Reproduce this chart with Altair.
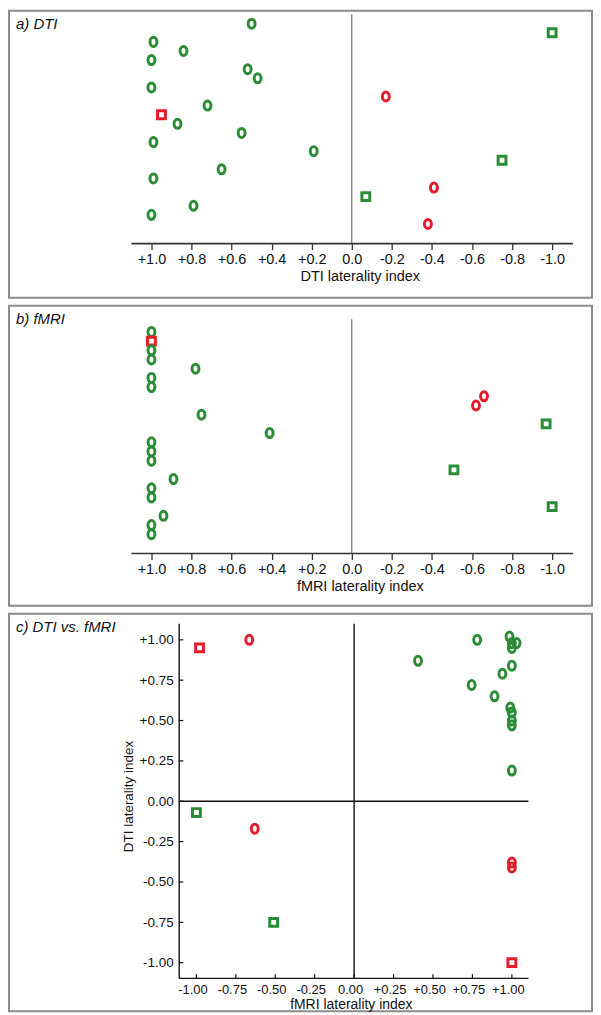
import altair as alt
import pandas as pd

FONT = "Liberation Sans"
GREEN = "#2b8c36"
RED = "#e31d2b"
BORDER = "#8c8c8c"

# ---------------- data ----------------
# a) DTI laterality index, one row per subject (top to bottom)
a_val = [0.50, -1.00, 0.99, 0.84, 1.00, 0.52, 0.47, 1.00, -0.17, 0.72, 0.95, 0.87,
         0.55, 0.99, 0.19, -0.75, 0.65, 0.99, -0.41, -0.07, 0.79, 1.00, -0.38]
a_col = ["green", "green", "green", "green", "green", "green", "green", "green", "red", "green", "red", "green",
         "green", "green", "green", "green", "green", "green", "red", "green", "green", "green", "red"]
a_shp = ["circle", "square", "circle", "circle", "circle", "circle", "circle", "circle", "circle", "circle", "square", "circle",
         "circle", "circle", "circle", "square", "circle", "circle", "circle", "square", "circle", "circle", "circle"]

# b) fMRI laterality index, one row per subject (top to bottom)
b_val = [1.00, 1.00, 1.00, 1.00, 0.78, 1.00, 1.00, -0.66, -0.62, 0.75, -0.97, 0.41,
         1.00, 1.00, 1.00, -0.51, 0.89, 1.00, 1.00, -1.00, 0.94, 1.00, 1.00]
b_col = ["green", "red", "green", "green", "green", "green", "green", "red", "red", "green", "green", "green",
         "green", "green", "green", "green", "green", "green", "green", "green", "green", "green", "green"]
b_shp = ["circle", "square", "circle", "circle", "circle", "circle", "circle", "circle", "circle", "circle", "square", "circle",
         "circle", "circle", "circle", "square", "circle", "circle", "circle", "square", "circle", "circle", "circle"]

# c) DTI vs. fMRI
c_fmri = [-0.98, -0.665, -1.00, -0.63, -0.51, 0.78, 0.985, 1.00, 1.03, 1.00, 0.405, 1.00,
          0.94, 0.745, 0.89, 0.99, 1.00, 1.00, 1.00, 1.00, 1.00, 1.00, 1.00]
c_dti = [0.95, 1.00, -0.07, -0.17, -0.75, 1.00, 1.02, 0.98, 0.98, 0.95, 0.87, 0.84,
         0.79, 0.72, 0.65, 0.58, 0.55, 0.50, 0.47, 0.19, -0.38, -0.41, -1.00]
c_col = ["red", "red", "green", "red", "green", "green", "green", "green", "green", "green", "green", "green",
         "green", "green", "green", "green", "green", "green", "green", "green", "red", "red", "red"]
c_shp = ["square", "circle", "square", "circle", "square", "circle", "circle", "circle", "circle", "circle", "circle", "circle",
         "circle", "circle", "circle", "circle", "circle", "circle", "circle", "circle", "circle", "circle", "square"]

ab_ticks = [1.0, 0.8, 0.6, 0.4, 0.2, 0.0, -0.2, -0.4, -0.6, -0.8, -1.0]
c_ticks = [-1.0, -0.75, -0.5, -0.25, 0.0, 0.25, 0.5, 0.75, 1.0]

# ---------------- layout ----------------
W = 585
H_A, H_B, H_C = 288, 301, 399
AB_X_DOMAIN = [-1.199, 1.711]
A_Y_DOMAIN = [-0.423, 31.10]
B_Y_DOMAIN = [-1.85, 30.77]
C_X_DOMAIN = [-2.188, 1.508]
C_Y_DOMAIN = [-1.301, 1.162]

ELLIPSE = "M0,-1.15 A0.88,1.15 0 1,1 0,1.15 A0.88,1.15 0 1,1 0,-1.15 Z"
color_enc = alt.Color("grp:N", scale=alt.Scale(domain=["green", "red"], range=[GREEN, RED]), legend=None)
shape_enc = alt.Shape("shp:N", scale=alt.Scale(domain=["circle", "square"], range=[ELLIPSE, "square"]), legend=None)
MARK = dict(filled=False, strokeWidth=3, size=62, opacity=1)


def label_expr(fmt, zero):
    return (f"datum.value > 0.001 ? '+' + format(datum.value, '{fmt}') : "
            f"(datum.value < -0.001 ? '-' + format(-datum.value, '{fmt}') : '{zero}')")


def panel_title(text):
    return alt.TitleParams(text, anchor="start", frame="group", offset=-21, dx=7,
                           font=FONT, fontSize=15, fontStyle="italic", fontWeight="normal",
                           color="#111111")


def strip_panel(vals, cols, shps, title, xtitle, ydom, axis_y, zero_top, offset, height):
    df = pd.DataFrame({"idx": list(range(1, len(vals) + 1)), "v": vals, "grp": cols, "shp": shps})
    xs = alt.Scale(domain=AB_X_DOMAIN, reverse=True, nice=False, zero=False)
    ys = alt.Scale(domain=ydom, reverse=True, nice=False, zero=False)
    xaxis = alt.Axis(
        values=ab_ticks, labelExpr=label_expr(".1f", "0.0"), title=xtitle, offset=offset,
        domain=False, ticks=True, tickSize=6, tickColor="#333333", tickWidth=1.3,
        labelFont=FONT, labelFontSize=14.5, labelColor="#111111", labelPadding=3,
        labelOverlap=False, labelFlush=False, grid=False,
        titleFont=FONT, titleFontSize=14.5, titleFontWeight="normal", titleColor="#111111",
        titlePadding=4, titleX=352)
    pts = alt.Chart(df).mark_point(**MARK).encode(
        x=alt.X("v:Q", scale=xs, axis=xaxis),
        y=alt.Y("idx:Q", scale=ys, axis=None),
        color=color_enc,
        shape=shape_enc,
    )
    lines = pd.DataFrame({
        "x": [-1.104, 0.0], "x2": [1.0995, 0.0],
        "y": [axis_y, zero_top], "y2": [axis_y, axis_y],
        "c": ["#333333", "#555555"], "w": [1.6, 1.0],
    })
    rules = alt.Chart(lines).mark_rule().encode(
        x=alt.X("x:Q", scale=xs, axis=xaxis), x2="x2:Q",
        y=alt.Y("y:Q", scale=ys, axis=None), y2="y2:Q",
        color=alt.Color("c:N", scale=None), strokeWidth=alt.StrokeWidth("w:Q", scale=None),
    )
    return alt.layer(rules, pts).properties(width=W, height=height, title=panel_title(title))


panel_a = strip_panel(a_val, a_col, a_shp, "a) DTI", "DTI laterality index",
                      A_Y_DOMAIN, 25.16, -0.02, -54.3, H_A)
panel_b = strip_panel(b_val, b_col, b_shp, "b) fMRI", "fMRI laterality index",
                      B_Y_DOMAIN, 25.10, -0.37, -52.3, H_B)

# ---------------- panel c ----------------
cdf = pd.DataFrame({"f": c_fmri, "d": c_dti, "grp": c_col, "shp": c_shp})
cxs = alt.Scale(domain=C_X_DOMAIN, nice=False, zero=False)
cys = alt.Scale(domain=C_Y_DOMAIN, nice=False, zero=False)
AX_X = -1.109   # x position of the y-axis line
AX_Y = -1.097   # y position of the x-axis line
X_END, Y_END = 1.105, 1.10

c_xaxis = alt.Axis(
    values=c_ticks, labelExpr=label_expr(".2f", "0.00"), title="fMRI laterality index",
    offset=-33, domain=False, ticks=False, tickSize=0, labelPadding=5, labelOffset=-4,
    labelFont=FONT, labelFontSize=13, labelColor="#111111", labelOverlap=False, labelFlush=False,
    grid=False, titleFont=FONT, titleFontSize=14, titleFontWeight="normal",
    titleColor="#111111", titlePadding=1, titleX=343)
c_yaxis = alt.Axis(
    values=c_ticks, labelExpr=label_expr(".2f", "0.00"), title="DTI laterality index",
    offset=-170.7, domain=False, ticks=False, tickSize=0, labelPadding=6,
    labelFont=FONT, labelFontSize=13.5, labelColor="#111111", labelOverlap=False, labelFlush=False,
    grid=False, titleFont=FONT, titleFontSize=13.5, titleFontWeight="normal",
    titleColor="#111111", titlePadding=4, titleY=183)

c_pts = alt.Chart(cdf).mark_point(**MARK).encode(
    x=alt.X("f:Q", scale=cxs, axis=c_xaxis),
    y=alt.Y("d:Q", scale=cys, axis=c_yaxis),
    color=color_enc,
    shape=shape_enc,
)

c_lines = pd.DataFrame({
    "x": [AX_X, AX_X, AX_X, 0.0],
    "x2": [X_END, AX_X, X_END, 0.0],
    "y": [AX_Y, AX_Y, 0.0, AX_Y],
    "y2": [AX_Y, Y_END, 0.0, Y_END],
})
c_rules = alt.Chart(c_lines).mark_rule(color="#111111", strokeWidth=1.4).encode(
    x=alt.X("x:Q", scale=cxs, axis=c_xaxis), x2="x2:Q",
    y=alt.Y("y:Q", scale=cys, axis=c_yaxis), y2="y2:Q",
)
TICK_LEN_X = 0.026  # inward tick length in x units
TICK_LEN_Y = 0.026
xt = pd.DataFrame({"x": c_ticks, "y": [AX_Y] * len(c_ticks), "y2": [AX_Y + TICK_LEN_Y] * len(c_ticks)})
yt = pd.DataFrame({"y": c_ticks, "x": [AX_X] * len(c_ticks), "x2": [AX_X + TICK_LEN_X] * len(c_ticks)})
c_xticks = alt.Chart(xt).mark_rule(color="#111111", strokeWidth=1.2).encode(
    x=alt.X("x:Q", scale=cxs, axis=c_xaxis),
    y=alt.Y("y:Q", scale=cys, axis=c_yaxis), y2="y2:Q",
)
c_yticks = alt.Chart(yt).mark_rule(color="#111111", strokeWidth=1.2).encode(
    x=alt.X("x:Q", scale=cxs, axis=c_xaxis), x2="x2:Q",
    y=alt.Y("y:Q", scale=cys, axis=c_yaxis),
)
panel_c = alt.layer(c_rules, c_xticks, c_yticks, c_pts).properties(
    width=W, height=H_C, title=panel_title("c) DTI vs. fMRI"))

chart = alt.vconcat(panel_a, panel_b, panel_c, spacing=6).properties(
    padding=0, background="white"
).configure_view(stroke=BORDER, strokeWidth=2).configure_title(font=FONT)

chart.save("out.html", embed_options={"renderer": "svg", "actions": False})
